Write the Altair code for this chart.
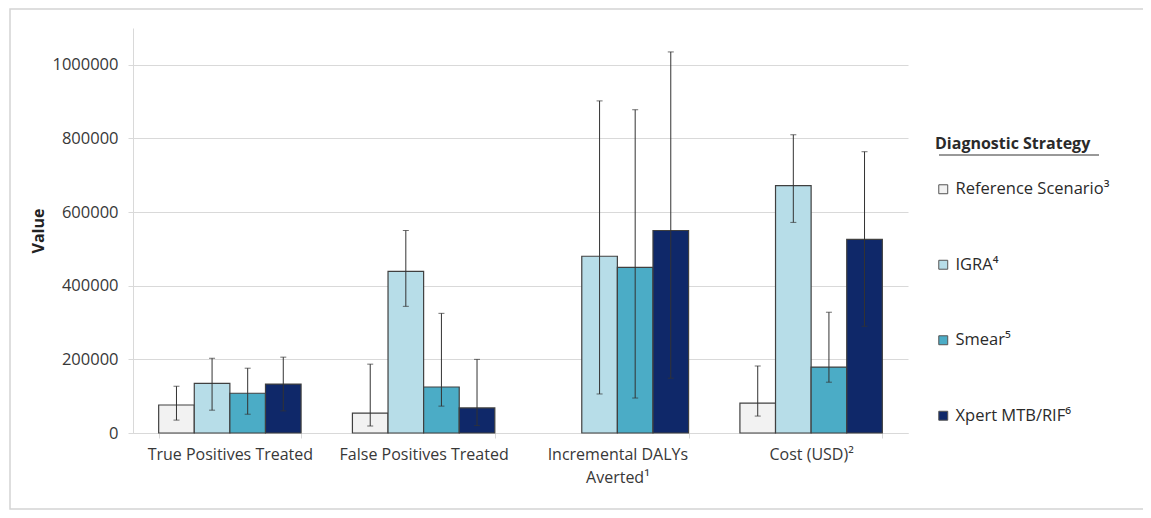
import altair as alt
import pandas as pd

categories = ["True Positives Treated", "False Positives Treated",
              "Incremental DALYs|Averted¹", "Cost (USD)²"]
series = ["Reference Scenario³", "IGRA⁴", "Smear⁵", "Xpert MTB/RIF⁶"]
colors = ["#f2f2f2", "#b7dde8", "#4bacc6", "#0f2869"]

ref_val = [76000, 54000, None, 81000]
ref_lo = [35000, 19000, None, 46000]
ref_hi = [127000, 187000, None, 182000]

igra_val = [135000, 439000, 480000, 672000]
igra_lo = [62000, 344000, 106000, 572000]
igra_hi = [203000, 550000, 902000, 810000]

smear_val = [108000, 125000, 450000, 179000]
smear_lo = [51000, 73000, 95000, 138000]
smear_hi = [176000, 325000, 878000, 328000]

xpert_val = [133000, 68000, 550000, 526000]
xpert_lo = [60000, 20000, 149000, 290000]
xpert_hi = [206000, 200000, 1035000, 764000]

y_ticks = [0, 200000, 400000, 600000, 800000, 1000000]

rows = []
for s, vals, los, his in zip(series,
                             [ref_val, igra_val, smear_val, xpert_val],
                             [ref_lo, igra_lo, smear_lo, xpert_lo],
                             [ref_hi, igra_hi, smear_hi, xpert_hi]):
    for c, v, lo, hi in zip(categories, vals, los, his):
        if v is None:
            continue
        rows.append({"category": c, "series": s, "value": v, "lo": lo, "hi": hi})
df = pd.DataFrame(rows)

FONT = "Open Sans"
TXT = "#383838"
GRID = "#d9d9d9"

x = alt.X("category:N", sort=categories,
          scale=alt.Scale(domain=categories, paddingInner=0.265, paddingOuter=0.1325),
          axis=alt.Axis(title=None, labelAngle=0, labelExpr="split(datum.label, '|')",
                        labelFontSize=16, labelColor=TXT, labelPadding=8,
                        labelLineHeight=23, tickBand="extent", tickSize=5,
                        tickColor=GRID, domainColor=GRID, grid=False))
xo = alt.XOffset("series:N", sort=series,
                 scale=alt.Scale(domain=series, paddingInner=0, paddingOuter=0))
yscale = alt.Scale(domain=[0, 1100000], nice=False)

base = alt.Chart(df)

bars = base.mark_bar(stroke="#404040", strokeWidth=1.2).encode(
    x=x, xOffset=xo,
    y=alt.Y("value:Q", scale=yscale,
            axis=alt.Axis(values=y_ticks, format="d", title="Value",
                          titleFontSize=16, titleFontWeight="bold", titleColor="#222",
                          titlePadding=5, labelFontSize=16.5, labelColor=TXT,
                          labelPadding=10, tickSize=5, tickColor=GRID,
                          domainColor=GRID, gridColor=GRID, gridWidth=1.2)),
    color=alt.Color("series:N", sort=series,
                    scale=alt.Scale(domain=series, range=colors),
                    legend=alt.Legend(title="Diagnostic Strategy", orient="none",
                                      legendX=802, legendY=108,
                                      titleFontSize=16, titleFontWeight="bold",
                                      titleColor="#2a2a2a", titlePadding=29,
                                      labelFontSize=16.5, labelColor="#2a2a2a",
                                      labelOffset=4, rowPadding=58.5, labelLimit=400,
                                      symbolType="square", symbolSize=80,
                                      symbolStrokeColor="#555", symbolStrokeWidth=1)),
)

rules = base.mark_rule(color="#333333", strokeWidth=1).encode(
    x=x, xOffset=xo, y=alt.Y("lo:Q", scale=yscale), y2="hi:Q")
cap_lo = base.mark_tick(color="#333333", thickness=1, size=6).encode(
    x=x, xOffset=xo, y=alt.Y("lo:Q", scale=yscale))
cap_hi = base.mark_tick(color="#333333", thickness=1, size=6).encode(
    x=x, xOffset=xo, y=alt.Y("hi:Q", scale=yscale))

deco = alt.Chart(pd.DataFrame({"k": [0]}))
border = deco.mark_rect(fill="transparent", stroke="#d4d4d4", strokeWidth=1.5).encode(
    x=alt.value(-123), x2=alt.value(1300), y=alt.value(-19), y2=alt.value(481))
underline = deco.mark_rule(color="#333333", strokeWidth=1).encode(
    x=alt.value(806), x2=alt.value(966), y=alt.value(127))

chart = alt.layer(border, bars, rules, cap_lo, cap_hi, underline).properties(
    width=775, height=405,
    autosize=alt.AutoSizeParams(type="none"),
    padding={"left": 125, "top": 20, "right": 235, "bottom": 77},
    background="white",
).configure(font=FONT).configure_view(stroke=None)

chart.save("out.html", embed_options={"renderer": "svg", "actions": False})
